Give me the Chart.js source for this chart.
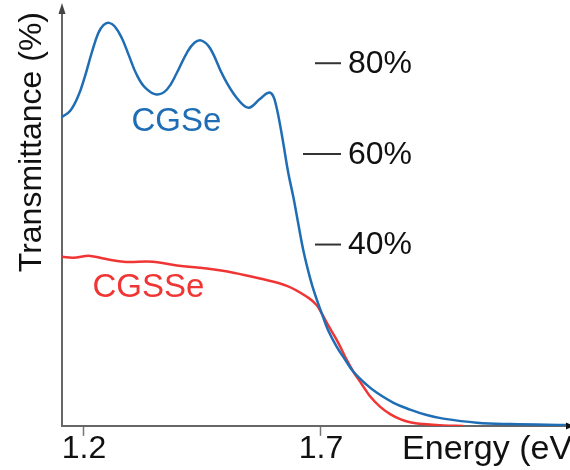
<!DOCTYPE html>
<html lang="en">
<head>
<meta charset="UTF-8">
<title>Transmittance vs Energy</title>
<script src="https://cdn.jsdelivr.net/npm/chart.js"></script>
<style>
  html, body { margin: 0; padding: 0; background: #fff; }
  #wrap { width: 570px; height: 470px; }
</style>
</head>
<body>
<div id="wrap"><canvas id="chart" width="570" height="470"></canvas></div>
<script>
// values
const cgseEnergy = [1.153, 1.171, 1.188, 1.202, 1.216, 1.230, 1.241, 1.253, 1.265, 1.280, 1.294, 1.311, 1.329, 1.353, 1.375, 1.396, 1.417, 1.433, 1.448, 1.466, 1.494, 1.522, 1.547, 1.571, 1.589, 1.599, 1.607, 1.614, 1.621, 1.631, 1.642, 1.651, 1.663, 1.677, 1.687, 1.702, 1.715, 1.733, 1.751, 1.768, 1.796, 1.818, 1.853, 1.888, 1.923, 1.958, 2.029, 2.099, 2.221];
const cgseT      = [68.1, 69.5, 72.8, 77.1, 82.2, 86.6, 88.4, 88.9, 88.1, 85.5, 81.9, 77.5, 74.6, 73.1, 74.2, 77.9, 82.3, 84.5, 85.0, 83.3, 77.1, 72.4, 70.2, 72.1, 73.5, 72.8, 69.9, 66.2, 62.0, 55.8, 50.3, 45.2, 38.6, 32.6, 29.1, 24.7, 21.1, 17.5, 14.6, 12.0, 9.1, 7.3, 5.1, 3.6, 2.4, 1.6, 0.7, 0.4, 0.2];

const cgsseEnergy = [1.154, 1.177, 1.213, 1.241, 1.283, 1.346, 1.396, 1.459, 1.515, 1.571, 1.628, 1.673, 1.691, 1.702, 1.719, 1.737, 1.754, 1.768, 1.786, 1.803, 1.825, 1.846, 1.867, 1.888, 1.916, 1.958, 2.0];
const cgsseT      = [37.3, 37.1, 37.5, 36.9, 36.2, 36.2, 35.4, 34.7, 33.8, 32.5, 30.9, 28.3, 26.6, 24.7, 21.5, 18.2, 14.6, 12.0, 9.2, 6.6, 4.2, 2.6, 1.5, 0.8, 0.4, 0.1, 0.0];

const xTicks = [1.2, 1.7];
const levelMarks = [80, 60, 40];

const blue = '#1f6db4';
const red = '#f03535';
const fontFamily = '"Liberation Sans", Arial, Helvetica, sans-serif';

function toPoints(xs, ys) {
    return xs.map((v, i) => ({ x: v, y: ys[i] }));
}

// labels, level marks and axis arrows
const decorations = {
    id: 'decorations',
    afterDraw(chart) {
        const { ctx, chartArea, scales: { x, y } } = chart;
        ctx.save();
        ctx.font = '32px ' + fontFamily;
        ctx.textBaseline = 'middle';
        ctx.textAlign = 'left';

        // --80% style marks
        const markEnd = x.getPixelForValue(1.7) + 20;
        levelMarks.forEach(v => {
            const py = y.getPixelForValue(v);
            const len = v === 60 ? 38 : 26;
            ctx.strokeStyle = '#333';
            ctx.lineWidth = 2;
            ctx.beginPath();
            ctx.moveTo(markEnd - len, py);
            ctx.lineTo(markEnd, py);
            ctx.stroke();
            ctx.fillStyle = '#111';
            ctx.fillText(v + '%', markEnd + 7, py + 1);
        });

        // curve names
        ctx.font = '33px ' + fontFamily;
        ctx.fillStyle = blue;
        ctx.fillText('CGSe', x.getPixelForValue(1.3), y.getPixelForValue(67));
        ctx.fillStyle = red;
        ctx.fillText('CGSSe', x.getPixelForValue(1.218), y.getPixelForValue(30.5));

        // x axis title beside the ticks
        ctx.font = '34px ' + fontFamily;
        ctx.fillStyle = '#111';
        ctx.fillText('Energy (eV)', x.getPixelForValue(1.871), chartArea.bottom + 24);

        // arrow heads
        ctx.fillStyle = '#444';
        ctx.beginPath();
        ctx.moveTo(chartArea.left, chartArea.top - 9);
        ctx.lineTo(chartArea.left - 3.5, chartArea.top + 2);
        ctx.lineTo(chartArea.left + 3.5, chartArea.top + 2);
        ctx.closePath();
        ctx.fill();
        ctx.fillStyle = '#111';
        ctx.beginPath();
        ctx.moveTo(chartArea.right + 6, chartArea.bottom);
        ctx.lineTo(chartArea.right - 2, chartArea.bottom - 3.5);
        ctx.lineTo(chartArea.right - 2, chartArea.bottom + 3.5);
        ctx.closePath();
        ctx.fill();
        ctx.restore();
    }
};

const ctx = document.getElementById('chart').getContext('2d');
new Chart(ctx, {
    type: 'line',
    data: {
        datasets: [{
            label: 'CGSe',
            data: toPoints(cgseEnergy, cgseT),
            borderColor: blue,
            borderWidth: 2.5,
            pointRadius: 0,
            tension: 0.4,
            fill: false
        }, {
            label: 'CGSSe',
            data: toPoints(cgsseEnergy, cgsseT),
            borderColor: red,
            borderWidth: 2.5,
            pointRadius: 0,
            tension: 0.4,
            fill: false
        }]
    },
    options: {
        responsive: false,
        animation: false,
        events: [],
        layout: { padding: { left: 9, right: 2, top: 12, bottom: 7 } },
        plugins: { legend: { display: false }, tooltip: { enabled: false } },
        scales: {
            x: {
                type: 'linear',
                min: 1.1536,
                max: 2.2211,
                afterBuildTicks: axis => { axis.ticks = xTicks.map(v => ({ value: v })); },
                ticks: {
                    color: '#111',
                    padding: 3,
                    maxRotation: 0,
                    font: { family: fontFamily, size: 32, lineHeight: 0.66 },
                    callback: v => v.toFixed(1)
                },
                grid: { drawOnChartArea: false, color: '#777', tickLength: 10, tickWidth: 1.5 },
                border: { color: '#666', width: 2 }
            },
            y: {
                min: 0,
                max: 91.3,
                ticks: { display: false },
                grid: { display: false, drawTicks: false },
                border: { color: '#666', width: 2 },
                title: {
                    display: true,
                    text: 'Transmittance (%)',
                    align: 'end',
                    color: '#111',
                    font: { family: fontFamily, size: 32 },
                    padding: { top: 4, bottom: 10.6 }
                }
            }
        }
    },
    plugins: [decorations]
});
</script>
</body>
</html>
